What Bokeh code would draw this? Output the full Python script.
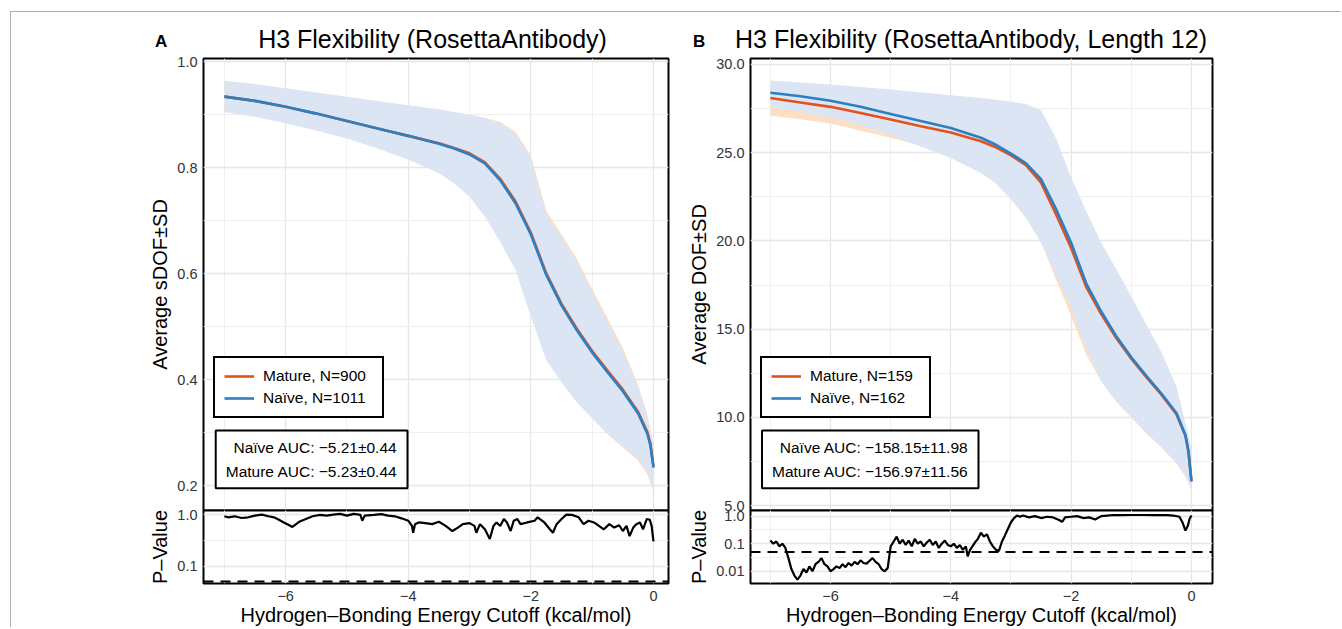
from bokeh.plotting import figure
from bokeh.models import (Range1d, FixedTicker, PrintfTickFormatter, Legend,
                          LegendItem, Label, Span, ColumnDataSource, Div)
from bokeh.layouts import row, column
from bokeh.embed import file_html
from bokeh.resources import INLINE

FONT = "Liberation Sans"
ORANGE = "#E4521B"
BLUE = "#2D7FC1"
ORANGE_BAND = "#FDDFC4"
BLUE_BAND = "#DCE5F3"

# ---------------- data ----------------
X_CURVE = [-7.0, -6.5, -6.0, -5.5, -5.0, -4.5, -4.0, -3.5, -3.25, -3.0, -2.75, -2.5,
           -2.25, -2.0, -1.75, -1.5, -1.25, -1.0, -0.75, -0.5, -0.25, -0.1, -0.05, 0.0]

# Panel A (sDOF)
NAIVE_MEAN_A = [0.934, 0.926, 0.915, 0.902, 0.888, 0.874, 0.860, 0.845, 0.836, 0.825, 0.808, 0.776,
                0.733, 0.674, 0.598, 0.540, 0.493, 0.451, 0.414, 0.378, 0.336, 0.298, 0.276, 0.234]
MATURE_MEAN_A = [0.934, 0.926, 0.915, 0.902, 0.888, 0.874, 0.860, 0.846, 0.837, 0.827, 0.810, 0.779,
                 0.736, 0.677, 0.601, 0.543, 0.496, 0.454, 0.417, 0.381, 0.339, 0.301, 0.279, 0.236]
NAIVE_UPPER_A = [0.964, 0.958, 0.950, 0.942, 0.934, 0.926, 0.918, 0.910, 0.905, 0.900, 0.893, 0.884,
                 0.864, 0.818, 0.712, 0.668, 0.622, 0.565, 0.510, 0.455, 0.385, 0.330, 0.302, 0.272]
NAIVE_LOWER_A = [0.905, 0.896, 0.884, 0.870, 0.855, 0.836, 0.815, 0.790, 0.770, 0.745, 0.708, 0.660,
                 0.607, 0.520, 0.437, 0.395, 0.357, 0.327, 0.298, 0.274, 0.250, 0.226, 0.212, 0.196]
MATURE_UPPER_A = [0.963, 0.957, 0.949, 0.941, 0.933, 0.925, 0.917, 0.909, 0.904, 0.900, 0.894, 0.886,
                  0.868, 0.823, 0.719, 0.674, 0.628, 0.571, 0.516, 0.460, 0.390, 0.334, 0.306, 0.275]
MATURE_LOWER_A = [0.906, 0.897, 0.885, 0.871, 0.856, 0.837, 0.816, 0.791, 0.771, 0.746, 0.709, 0.661,
                  0.608, 0.521, 0.438, 0.396, 0.358, 0.328, 0.297, 0.272, 0.247, 0.221, 0.205, 0.188]

# Panel B (DOF, length 12)
NAIVE_MEAN_B = [28.40, 28.20, 27.95, 27.60, 27.20, 26.80, 26.40, 25.85, 25.45, 24.95, 24.40, 23.50,
                21.80, 19.90, 17.60, 16.00, 14.60, 13.40, 12.35, 11.35, 10.25, 9.00, 8.10, 6.40]
MATURE_MEAN_B = [28.10, 27.85, 27.60, 27.25, 26.88, 26.50, 26.15, 25.65, 25.30, 24.85, 24.30, 23.30,
                 21.50, 19.60, 17.40, 15.85, 14.50, 13.32, 12.28, 11.28, 10.18, 8.95, 8.05, 6.35]
NAIVE_UPPER_B = [29.10, 28.98, 28.86, 28.72, 28.58, 28.42, 28.25, 28.10, 28.00, 27.90, 27.75, 27.40,
                 25.80, 23.60, 21.70, 19.90, 18.40, 16.85, 15.25, 13.70, 11.75, 9.65, 9.00, 8.20]
NAIVE_LOWER_B = [27.60, 27.30, 27.00, 26.55, 26.00, 25.35, 24.70, 23.85, 23.25, 22.35, 21.30, 19.90,
                 18.10, 16.20, 13.90, 12.05, 10.90, 10.00, 9.10, 8.30, 7.40, 6.70, 6.30, 5.90]
MATURE_UPPER_B = [28.85, 28.70, 28.55, 28.38, 28.20, 28.00, 27.80, 27.55, 27.40, 27.25, 27.05, 26.70,
                  25.20, 23.30, 21.50, 19.80, 18.30, 16.80, 15.25, 13.65, 11.70, 9.60, 8.95, 8.10]
MATURE_LOWER_B = [27.10, 26.90, 26.65, 26.25, 25.85, 25.40, 24.75, 23.90, 23.30, 22.40, 21.35, 19.95,
                  17.80, 15.75, 13.55, 12.05, 10.90, 10.00, 9.10, 8.30, 7.40, 6.65, 6.25, 5.85]

# P-values
PVAL_X_A = [-7.00, -6.94, -6.83, -6.72, -6.61, -6.50, -6.39, -6.28, -6.19, -6.11, -6.03, -5.94,
            -5.89, -5.83, -5.78, -5.67, -5.56, -5.44, -5.33, -5.22, -5.11, -5.00, -4.89, -4.78,
            -4.75, -4.71, -4.56, -4.44, -4.33, -4.22, -4.11, -4.00, -3.94, -3.92, -3.89, -3.83,
            -3.72, -3.61, -3.50, -3.39, -3.28, -3.19, -3.11, -3.00, -2.92, -2.89, -2.83, -2.75,
            -2.67, -2.61, -2.56, -2.50, -2.44, -2.39, -2.33, -2.28, -2.22, -2.17, -2.06, -1.94,
            -1.89, -1.78, -1.69, -1.64, -1.58, -1.50, -1.42, -1.33, -1.22, -1.14, -1.06, -0.97,
            -0.89, -0.81, -0.72, -0.64, -0.56, -0.50, -0.44, -0.39, -0.33, -0.28, -0.22, -0.17,
            -0.11, -0.06, -0.03, 0.00]
PVAL_A = [0.93, 0.885, 0.926, 0.858, 0.885, 0.955, 1.0, 0.926, 0.885, 0.794, 0.703, 0.621,
          0.575, 0.651, 0.724, 0.819, 0.926, 0.985, 0.955, 1.0, 1.03, 0.955, 1.03, 0.985,
          0.759, 0.955, 0.985, 1.02, 0.955, 0.926, 0.845, 0.759, 0.603, 0.443, 0.651, 0.703,
          0.681, 0.651, 0.724, 0.603, 0.479, 0.558, 0.651, 0.681, 0.603, 0.443, 0.651, 0.517,
          0.336, 0.603, 0.703, 0.603, 0.819, 0.703, 0.479, 0.759, 0.819, 0.651, 0.703, 0.759,
          0.885, 0.703, 0.517, 0.443, 0.651, 0.819, 1.0, 0.985, 0.885, 0.651, 0.759, 0.703,
          0.603, 0.517, 0.651, 0.558, 0.621, 0.479, 0.603, 0.380, 0.558, 0.651, 0.703, 0.517,
          0.819, 0.794, 0.603, 0.302]

PVAL_X_B = [-7.00, -6.95, -6.90, -6.85, -6.80, -6.75, -6.70, -6.65, -6.60, -6.55, -6.50, -6.45,
            -6.40, -6.35, -6.30, -6.25, -6.20, -6.15, -6.10, -6.05, -6.00, -5.95, -5.90, -5.85,
            -5.80, -5.75, -5.70, -5.65, -5.60, -5.55, -5.50, -5.45, -5.40, -5.35, -5.30, -5.25,
            -5.20, -5.15, -5.10, -5.05, -5.00, -4.95, -4.90, -4.85, -4.80, -4.75, -4.70, -4.65,
            -4.60, -4.55, -4.50, -4.45, -4.40, -4.35, -4.30, -4.25, -4.20, -4.15, -4.10, -4.05,
            -4.00, -3.95, -3.90, -3.85, -3.80, -3.75, -3.72, -3.68, -3.60, -3.55, -3.50, -3.45,
            -3.40, -3.35, -3.30, -3.25, -3.20, -3.15, -3.10, -3.05, -3.00, -2.95, -2.90, -2.85,
            -2.80, -2.70, -2.60, -2.50, -2.40, -2.30, -2.20, -2.15, -2.10, -2.00, -1.90, -1.80,
            -1.70, -1.60, -1.50, -1.40, -1.30, -1.20, -1.00, -0.80, -0.60, -0.40, -0.30, -0.20,
            -0.15, -0.10, -0.06, -0.03, 0.00]
PVAL_B = [0.13, 0.10, 0.12, 0.08, 0.10, 0.07, 0.03, 0.012, 0.007, 0.005, 0.007, 0.012,
          0.009, 0.015, 0.010, 0.018, 0.022, 0.030, 0.018, 0.015, 0.010, 0.012, 0.015, 0.013,
          0.018, 0.014, 0.020, 0.016, 0.022, 0.018, 0.025, 0.020, 0.019, 0.024, 0.030, 0.022,
          0.018, 0.012, 0.010, 0.013, 0.08, 0.12, 0.18, 0.10, 0.14, 0.09, 0.13, 0.08,
          0.15, 0.10, 0.12, 0.08, 0.11, 0.14, 0.09, 0.12, 0.07, 0.10, 0.13, 0.09,
          0.08, 0.10, 0.07, 0.09, 0.06, 0.08, 0.035, 0.06, 0.11, 0.15, 0.25, 0.18,
          0.22, 0.12, 0.08, 0.06, 0.055, 0.12, 0.20, 0.35, 0.60, 0.85, 1.05, 0.95,
          1.05, 0.90, 1.00, 0.85, 0.95, 0.90, 0.72, 0.62, 0.90, 0.95, 1.00, 0.85,
          0.90, 0.75, 1.00, 1.05, 1.10, 1.08, 1.10, 1.10, 1.08, 1.08, 1.05, 0.95,
          0.60, 0.30, 0.45, 0.80, 1.05]
P_THRESHOLD = 0.05

X_TICKS = [-6, -4, -2, 0]
X_MINOR = [-7, -5, -3, -1]
X_LABELS = {-6: "\u22126", -4: "\u22124", -2: "\u22122", 0: "0"}
Y_TICKS_A = [0.2, 0.4, 0.6, 0.8, 1.0]
Y_MINOR_A = [0.3, 0.5, 0.7, 0.9]
Y_TICKS_B = [5, 10, 15, 20, 25, 30]
Y_MINOR_B = [7.5, 12.5, 17.5, 22.5, 27.5]
P_TICKS = [0.01, 0.1, 1]
P_MINOR = [0.00316, 0.0316, 0.316]
P_LABELS = {1: "1.0", 0.1: "0.1", 0.01: "0.01"}

TITLE_A = "H3 Flexibility (RosettaAntibody)"
TITLE_B = "H3 Flexibility (RosettaAntibody, Length 12)"
YLABEL_A = "Average sDOF\u00b1SD"
YLABEL_B = "Average DOF\u00b1SD"
XLABEL = "Hydrogen\u2013Bonding Energy Cutoff (kcal/mol)"
PLABEL = "P\u2013Value"
LEGEND_A = ["Mature, N=900", "Na\u00efve, N=1011"]
LEGEND_B = ["Mature, N=159", "Na\u00efve, N=162"]
AUC_A = "Na\u00efve AUC: \u22125.21\u00b10.44\nMature AUC: \u22125.23\u00b10.44"
AUC_B = "Na\u00efve AUC: \u2212158.15\u00b111.98\nMature AUC: \u2212156.97\u00b111.56"

GRID_MAJOR = "#e6e6e6"
GRID_MINOR = "#efefef"
FRAME_GRAY = "#b0b0b0"


def style_axis(ax, label):
    ax.axis_label = label
    ax.axis_label_text_font = FONT
    ax.axis_label_text_font_size = "20px"
    ax.axis_label_text_font_style = "normal"
    ax.axis_label_text_color = "black"
    ax.major_label_text_font = FONT
    ax.major_label_text_font_size = "14.5px"
    ax.major_label_text_color = "#333333"
    ax.axis_line_color = None
    ax.major_tick_line_color = None
    ax.minor_tick_line_color = None
    ax.major_tick_out = 0
    ax.major_tick_in = 0
    ax.minor_tick_out = 0
    ax.minor_tick_in = 0
    ax.major_label_standoff = 6
    ax.axis_label_standoff = 3


def style_grid(p):
    for g in p.grid:
        g.grid_line_color = GRID_MAJOR
        g.grid_line_width = 1.3
        g.minor_grid_line_color = GRID_MINOR
        g.minor_grid_line_width = 1.0


def header(letter, title, width, letter_left, title_left, title_width):
    html = ('<div style="position:relative;width:%dpx;height:40px;'
            'font-family:\'Liberation Sans\',Arial,sans-serif;color:#000;">'
            '<div style="position:absolute;left:%dpx;top:21px;font-size:17px;line-height:17px;'
            'font-weight:bold;">%s</div>'
            '<div style="position:absolute;left:%dpx;width:%dpx;top:15px;font-size:25px;'
            'line-height:25px;text-align:center;white-space:nowrap;">%s</div></div>'
            % (width, letter_left, letter, title_left, title_width, title))
    return Div(text=html, width=width, height=40, margin=0)


def line_box(w, h, segments):
    parts = ['<div style="position:relative;width:%dpx;height:%dpx;">' % (w, h)]
    for (l, t, sw, sh) in segments:
        parts.append('<div style="position:absolute;left:%dpx;top:%dpx;width:%dpx;height:%dpx;'
                     'background:%s;"></div>' % (l, t, sw, sh, FRAME_GRAY))
    parts.append('</div>')
    return Div(text="".join(parts), width=w, height=h, margin=0)


def main_panel(mm, mu, ml, nm, nu, nl, xr, yr, yticks, yminor,
               ylabel, leg_labels, auc, auc_right, fw, bl, br):
    p = figure(frame_width=fw, frame_height=452, min_border_left=bl, min_border_right=br,
               min_border_top=6, min_border_bottom=10, x_range=Range1d(*xr),
               y_range=Range1d(*yr), x_axis_location=None,
               output_backend="svg", toolbar_location=None,
               background_fill_color="white", border_fill_color="white",
               border_fill_alpha=0.0)
    p.outline_line_color = "black"
    p.outline_line_width = 2
    ax = p.yaxis[0]
    ax.ticker = FixedTicker(ticks=yticks, minor_ticks=yminor)
    ax.formatter = PrintfTickFormatter(format="%.1f")
    style_axis(ax, ylabel)
    p.xgrid.ticker = FixedTicker(ticks=X_TICKS, minor_ticks=X_MINOR)
    style_grid(p)

    src = ColumnDataSource(dict(x=X_CURVE, mm=mm, mu=mu, ml=ml, nm=nm, nu=nu, nl=nl))
    p.varea(x="x", y1="ml", y2="mu", source=src, fill_color=ORANGE_BAND, fill_alpha=1.0)
    p.varea(x="x", y1="nl", y2="nu", source=src, fill_color=BLUE_BAND, fill_alpha=1.0)
    rm = p.line(x="x", y="mm", source=src, line_color=ORANGE, line_width=2.6)
    rn = p.line(x="x", y="nm", source=src, line_color=BLUE, line_width=2.6)

    leg = Legend(items=[LegendItem(label=leg_labels[0], renderers=[rm]),
                        LegendItem(label=leg_labels[1], renderers=[rn])],
                 location=(10, 92))
    leg.border_line_color = "black"
    leg.border_line_width = 2
    leg.border_line_alpha = 1.0
    leg.background_fill_color = "white"
    leg.background_fill_alpha = 1.0
    leg.label_text_font = FONT
    leg.label_text_font_size = "15.5px"
    leg.label_text_color = "black"
    leg.glyph_width = 30
    leg.glyph_height = 16
    leg.label_height = 16
    leg.label_width = 110
    leg.label_standoff = 9
    leg.padding = 9
    leg.spacing = 4
    leg.margin = 0
    p.add_layout(leg)

    p.add_layout(Label(x=auc_right, y=80, x_units="screen", y_units="screen", text=auc,
                       text_align="right", text_baseline="top", anchor="top_right",
                       text_font=FONT, text_font_size="15.5px", text_color="black",
                       text_line_height=1.45,
                       padding=dict(top=8, right=10, bottom=8, left=10),
                       border_line_color="black", border_line_width=2,
                       background_fill_color="white", background_fill_alpha=1.0))
    return p


def p_panel(x_range, px, pv, pr, fw, bl, br):
    q = figure(frame_width=fw, frame_height=73, min_border_left=bl, min_border_right=br,
               min_border_top=10, min_border_bottom=40, x_range=x_range,
               y_range=Range1d(*pr), y_axis_type="log",
               output_backend="svg", toolbar_location=None,
               background_fill_color="white", border_fill_color="white",
               border_fill_alpha=0.0, styles={"margin-top": "-20px"})
    q.outline_line_color = "black"
    q.outline_line_width = 2
    xa = q.xaxis[0]
    xa.ticker = FixedTicker(ticks=X_TICKS, minor_ticks=X_MINOR)
    xa.major_label_overrides = X_LABELS
    style_axis(xa, XLABEL)
    xa.major_label_standoff = 7
    xa.axis_label_standoff = 0
    ya = q.yaxis[0]
    ya.ticker = FixedTicker(ticks=P_TICKS, minor_ticks=P_MINOR)
    ya.major_label_overrides = P_LABELS
    style_axis(ya, PLABEL)
    style_grid(q)
    q.line(px, pv, line_color="black", line_width=2.2)
    q.add_layout(Span(location=P_THRESHOLD, dimension="width", line_color="black",
                      line_width=2, line_dash="10 7"))
    return q


WA_L, WA_F, WA_R = 192, 465, 17
WB_L, WB_F, WB_R = 62, 462, 120

mainA = main_panel(MATURE_MEAN_A, MATURE_UPPER_A, MATURE_LOWER_A,
                   NAIVE_MEAN_A, NAIVE_UPPER_A, NAIVE_LOWER_A, (-7.34, 0.245), (0.153, 1.006),
                   Y_TICKS_A, Y_MINOR_A, YLABEL_A, LEGEND_A, AUC_A, 204, WA_F, WA_L, WA_R)
pA = p_panel(mainA.x_range, PVAL_X_A, PVAL_A, (0.0457, 1.2), WA_F, WA_L, WA_R)
hA = header("A", TITLE_A, WA_L + WA_F + WA_R, 144, 189, WA_F)

mainB = main_panel(MATURE_MEAN_B, MATURE_UPPER_B, MATURE_LOWER_B,
                   NAIVE_MEAN_B, NAIVE_UPPER_B, NAIVE_LOWER_B, (-7.33, 0.35), (4.72, 30.34),
                   Y_TICKS_B, Y_MINOR_B, YLABEL_B, LEGEND_B, AUC_B, 228, WB_F, WB_L, WB_R)
pB = p_panel(mainB.x_range, PVAL_X_B, PVAL_B, (0.0036, 1.6), WB_F, WB_L, WB_R)
hB = header("B", TITLE_B, WB_L + WB_F + WB_R, 8, 50, WB_F)

panels = row(column(hA, mainA, pA), column(hB, mainB, pB))
left_strip = line_box(11, 627, [(10, 11, 1, 616), (10, 11, 1, 1)])
top_strip = line_box(1330, 12, [(0, 11, 1330, 1)])
layout = row(left_strip, column(top_strip, panels))

open("out.html", "w").write(file_html(layout, INLINE))
